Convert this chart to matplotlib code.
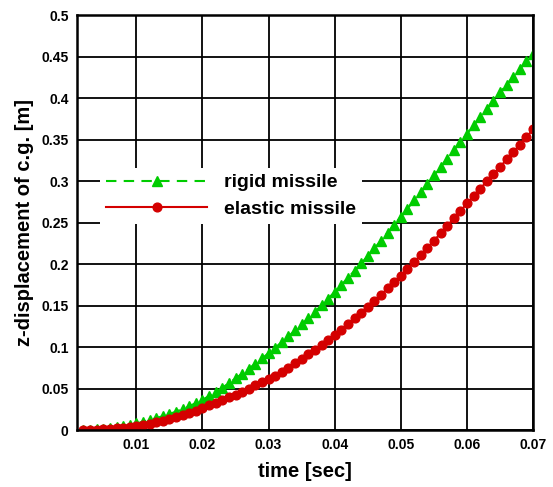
import matplotlib
matplotlib.use("Agg")
import matplotlib.pyplot as plt

# time axis, one sample per millisecond
time = [0.002, 0.003, 0.004, 0.005, 0.006, 0.007, 0.008, 0.009, 0.010,
        0.011, 0.012, 0.013, 0.014, 0.015, 0.016, 0.017, 0.018, 0.019, 0.020,
        0.021, 0.022, 0.023, 0.024, 0.025, 0.026, 0.027, 0.028, 0.029, 0.030,
        0.031, 0.032, 0.033, 0.034, 0.035, 0.036, 0.037, 0.038, 0.039, 0.040,
        0.041, 0.042, 0.043, 0.044, 0.045, 0.046, 0.047, 0.048, 0.049, 0.050,
        0.051, 0.052, 0.053, 0.054, 0.055, 0.056, 0.057, 0.058, 0.059, 0.060,
        0.061, 0.062, 0.063, 0.064, 0.065, 0.066, 0.067, 0.068, 0.069, 0.070]

rigid = [0.0003, 0.0006, 0.0011, 0.0017, 0.0025, 0.0035, 0.0047, 0.0062, 0.0080,
         0.0099, 0.0120, 0.0143, 0.0167, 0.0193, 0.0222, 0.0254, 0.0288, 0.0325, 0.0365,
         0.0410, 0.0458, 0.0510, 0.0565, 0.0622, 0.0680, 0.0739, 0.0800, 0.0863, 0.0927,
         0.0993, 0.1060, 0.1130, 0.1201, 0.1274, 0.1349, 0.1425, 0.1503, 0.1583, 0.1665,
         0.1749, 0.1834, 0.1920, 0.2008, 0.2098, 0.2190, 0.2283, 0.2378, 0.2474, 0.2571,
         0.2668, 0.2766, 0.2866, 0.2967, 0.3068, 0.3170, 0.3270, 0.3370, 0.3470, 0.3570,
         0.3670, 0.3770, 0.3870, 0.3970, 0.4068, 0.4163, 0.4258, 0.4350, 0.4442, 0.4532]

elastic = [0.0001, 0.0003, 0.0006, 0.0010, 0.0015, 0.0021, 0.0029, 0.0038, 0.0049,
           0.0062, 0.0077, 0.0093, 0.0111, 0.0130, 0.0153, 0.0178, 0.0205, 0.0235, 0.0268,
           0.0298, 0.0329, 0.0361, 0.0394, 0.0428, 0.0463, 0.0499, 0.0537, 0.0577, 0.0612,
           0.0654, 0.0700, 0.0751, 0.0804, 0.0858, 0.0913, 0.0969, 0.1026, 0.1085, 0.1146,
           0.1210, 0.1277, 0.1346, 0.1416, 0.1487, 0.1559, 0.1632, 0.1706, 0.1781, 0.1857,
           0.1940, 0.2025, 0.2110, 0.2195, 0.2282, 0.2370, 0.2460, 0.2550, 0.2640, 0.2730,
           0.2820, 0.2910, 0.2995, 0.3080, 0.3170, 0.3262, 0.3350, 0.3440, 0.3532, 0.3622]

xticks = [0.01, 0.02, 0.03, 0.04, 0.05, 0.06, 0.07]
yticks = [0, 0.05, 0.1, 0.15, 0.2, 0.25, 0.3, 0.35, 0.4, 0.45, 0.5]

plt.rcParams['font.family'] = ['Liberation Sans', 'DejaVu Sans']
plt.rcParams['font.weight'] = 'bold'

fig = plt.figure(figsize=(5.53, 4.87), dpi=100)
ax = fig.add_axes([0.139, 0.117, 0.825, 0.852])

ax.plot(time, rigid, color='#00cc00', linestyle=(0, (5, 3.5)), linewidth=1.5,
        marker='^', markersize=7, label='rigid missile')
ax.plot(time, elastic, color='#d40000', linestyle='-', linewidth=1.5,
        marker='o', markersize=6.3, label='elastic missile')

ax.set_xlim(0.001, 0.07)
ax.set_ylim(0, 0.5)
ax.set_xticks(xticks)
ax.set_xticklabels([f"{v:g}" for v in xticks])
ax.set_yticks(yticks)
ax.set_yticklabels([f"{v:g}" for v in yticks])
ax.tick_params(length=0, labelsize=10, pad=6)
ax.grid(True, color='black', linewidth=1.3)
ax.set_axisbelow(True)
for s in ax.spines.values():
    s.set_linewidth(1.8)

ax.set_xlabel("time [sec]", fontsize=14.5, fontweight='bold', labelpad=7)
ax.set_ylabel("z-displacement of c.g. [m]", fontsize=14.5, fontweight='bold', labelpad=5)

leg = ax.legend(loc='upper left', bbox_to_anchor=(0.03, 0.655), numpoints=1,
                handlelength=5.2, handletextpad=0.85, fontsize=14,
                frameon=True, fancybox=False, framealpha=1, edgecolor='none',
                borderpad=0.3, labelspacing=0.45)

fig.savefig("out.png", dpi=100)
